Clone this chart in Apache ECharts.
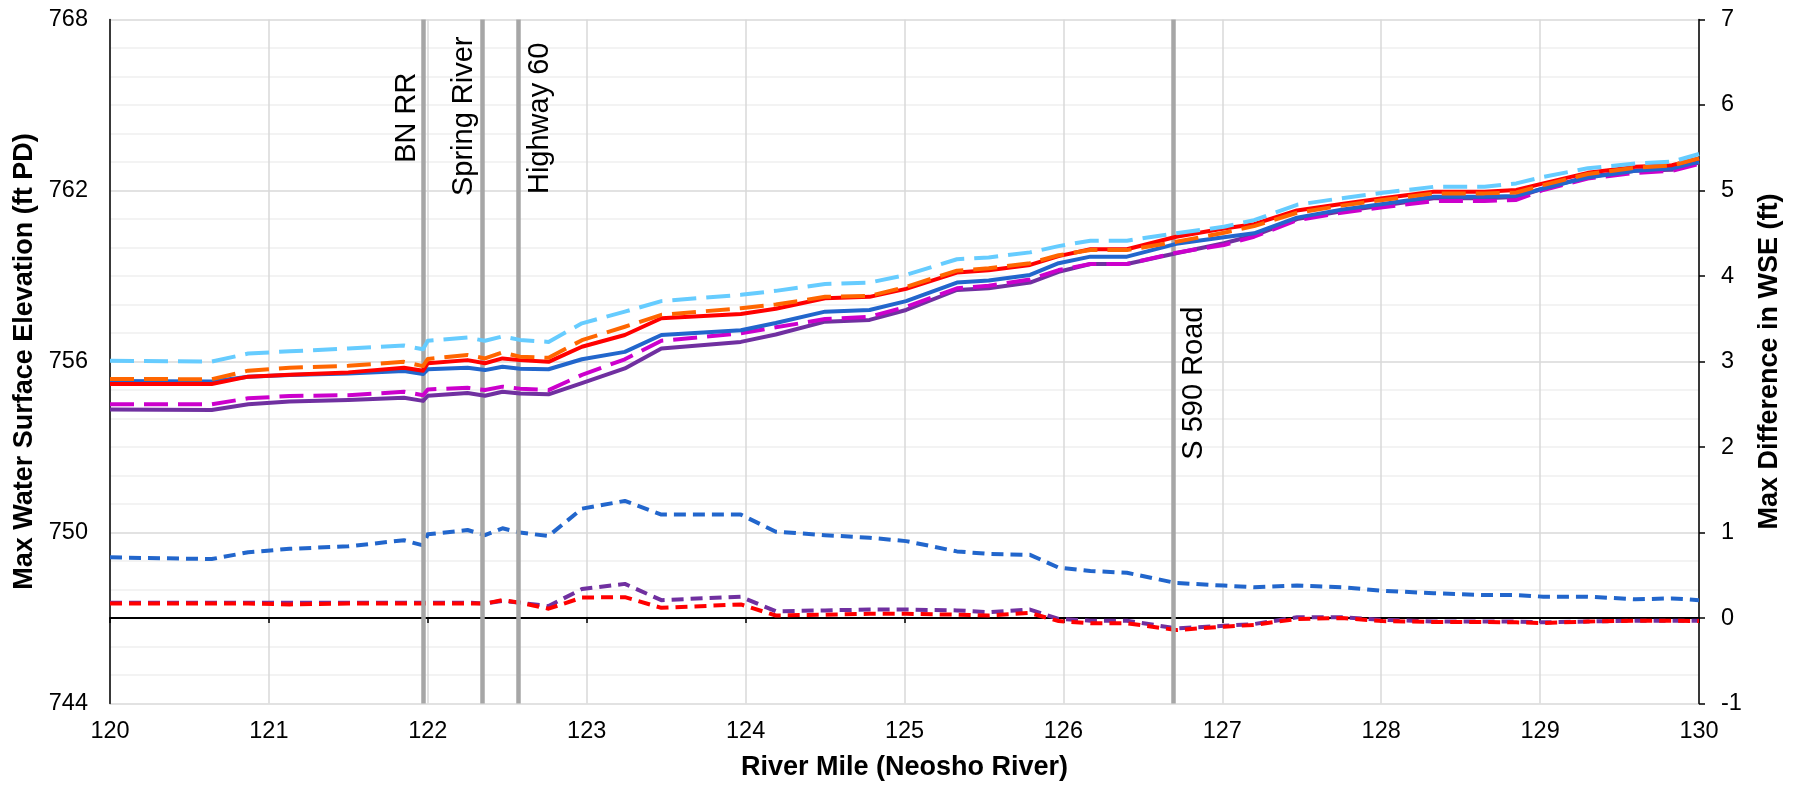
<!DOCTYPE html>
<html>
<head>
<meta charset="utf-8">
<script src="https://cdn.jsdelivr.net/npm/echarts@6/dist/echarts.min.js"></script>
<style>html,body{margin:0;padding:0;background:#ffffff}#chart{width:1797px;height:789px}</style>
</head>
<body>
<div id="chart"></div>
<script>
// ---- data ----
const riverMile = [120.0, 120.64, 120.87, 121.13, 121.5, 121.85, 121.97, 122.0, 122.25, 122.36, 122.47, 122.58, 122.76, 122.97, 123.24, 123.47, 123.97, 124.19, 124.5, 124.78, 125.01, 125.33, 125.53, 125.79, 125.97, 126.17, 126.4, 126.71, 127.01, 127.2, 127.47, 127.75, 128.01, 128.33, 128.65, 128.85, 129.02, 129.3, 129.6, 129.83, 130.0];

// Max water surface elevation (ft PD), left axis
const wseLightBlue = [756.03, 756.0, 756.28, 756.36, 756.46, 756.56, 756.43, 756.73, 756.84, 756.73, 756.88, 756.76, 756.69, 757.34, 757.75, 758.12, 758.34, 758.48, 758.72, 758.77, 759.04, 759.59, 759.65, 759.83, 760.05, 760.24, 760.24, 760.5, 760.73, 760.96, 761.5, 761.73, 761.92, 762.13, 762.13, 762.25, 762.48, 762.78, 762.95, 763.01, 763.28];
const wseOrange = [755.39, 755.38, 755.68, 755.78, 755.85, 755.99, 755.84, 756.09, 756.23, 756.11, 756.32, 756.17, 756.13, 756.75, 757.22, 757.64, 757.87, 758.0, 758.27, 758.3, 758.62, 759.19, 759.27, 759.45, 759.73, 759.91, 759.91, 760.2, 760.52, 760.75, 761.22, 761.47, 761.67, 761.9, 761.9, 761.93, 762.19, 762.58, 762.8, 762.88, 763.13];
const wseRed = [755.21, 755.21, 755.47, 755.54, 755.62, 755.78, 755.68, 755.94, 756.05, 755.94, 756.11, 756.05, 755.99, 756.52, 756.93, 757.52, 757.67, 757.85, 758.22, 758.27, 758.55, 759.12, 759.2, 759.39, 759.7, 759.94, 759.94, 760.38, 760.67, 760.82, 761.3, 761.53, 761.73, 761.96, 761.96, 762.02, 762.25, 762.62, 762.83, 762.89, 763.13];
const wseBlue = [755.32, 755.3, 755.47, 755.53, 755.58, 755.67, 755.56, 755.73, 755.78, 755.7, 755.82, 755.75, 755.73, 756.08, 756.34, 756.93, 757.1, 757.35, 757.75, 757.81, 758.12, 758.77, 758.84, 759.04, 759.45, 759.68, 759.68, 760.13, 760.36, 760.5, 761.05, 761.33, 761.53, 761.78, 761.78, 761.81, 762.07, 762.46, 762.69, 762.78, 763.01];
const wseMagenta = [754.5, 754.5, 754.71, 754.79, 754.82, 754.94, 754.82, 755.02, 755.08, 755.0, 755.12, 755.05, 755.0, 755.53, 756.08, 756.73, 756.99, 757.2, 757.49, 757.57, 757.92, 758.57, 758.66, 758.88, 759.21, 759.42, 759.42, 759.82, 760.09, 760.38, 760.96, 761.22, 761.41, 761.63, 761.63, 761.67, 762.02, 762.42, 762.62, 762.69, 762.93];
const wsePurple = [754.32, 754.3, 754.5, 754.6, 754.65, 754.73, 754.62, 754.8, 754.9, 754.8, 754.94, 754.88, 754.85, 755.24, 755.76, 756.46, 756.69, 756.95, 757.4, 757.46, 757.81, 758.51, 758.57, 758.77, 759.15, 759.42, 759.42, 759.8, 760.15, 760.42, 761.0, 761.27, 761.47, 761.73, 761.73, 761.77, 762.07, 762.48, 762.69, 762.73, 762.98];

// Max difference in WSE (ft), right axis
const diffBlue = [0.71, 0.69, 0.77, 0.81, 0.84, 0.91, 0.85, 0.98, 1.03, 0.97, 1.05, 1.0, 0.96, 1.28, 1.37, 1.21, 1.21, 1.01, 0.97, 0.94, 0.9, 0.78, 0.75, 0.74, 0.59, 0.55, 0.53, 0.41, 0.38, 0.36, 0.38, 0.36, 0.32, 0.29, 0.27, 0.27, 0.25, 0.25, 0.22, 0.23, 0.21];
const diffPurple = [0.18, 0.18, 0.18, 0.18, 0.18, 0.18, 0.18, 0.18, 0.18, 0.17, 0.2, 0.18, 0.14, 0.34, 0.4, 0.21, 0.25, 0.08, 0.09, 0.1, 0.1, 0.09, 0.07, 0.1, -0.01, -0.03, -0.03, -0.12, -0.09, -0.07, 0.01, 0.01, -0.02, -0.04, -0.04, -0.04, -0.05, -0.04, -0.03, -0.03, -0.03];
const diffRed = [0.17, 0.17, 0.17, 0.16, 0.17, 0.17, 0.17, 0.17, 0.17, 0.17, 0.21, 0.18, 0.11, 0.24, 0.245, 0.12, 0.16, 0.03, 0.04, 0.05, 0.05, 0.04, 0.03, 0.06, -0.035, -0.06, -0.06, -0.14, -0.1, -0.08, -0.01, 0.0, -0.035, -0.045, -0.045, -0.05, -0.058, -0.04, -0.03, -0.03, -0.035];

// Reference structures
const refMiles = [121.97, 122.34, 122.57, 126.69];
const refNames = ['BN RR', 'Spring River', 'Highway 60', 'S 590 Road'];

// ---- build chart ----
const FONT = "'Liberation Sans', Arial, sans-serif";
const pairs = (ys) => riverMile.map((x, i) => [x, ys[i]]);

function lineSeries(name, ys, color, yIdx, width, dash, z) {
  return {
    name: name, type: 'line', xAxisIndex: 0, yAxisIndex: yIdx,
    data: pairs(ys), showSymbol: false, symbol: 'none', z: z,
    lineStyle: { color: color, width: width, type: dash || 'solid', cap: 'butt', join: 'round' },
    silent: true
  };
}

const LONG = [24, 10];
const SHORT = [12, 7];

const refLabelStyles = [
  { position: 'insideEndTop', distance: [53, 1] },
  { position: 'insideEndTop', distance: [17, 3] },
  { position: 'insideEndBottom', distance: [23, 7] },
  { position: 'insideEndBottom', distance: [287, 6] }
];

const refSeries = {
  name: 'Structures', type: 'line', xAxisIndex: 0, yAxisIndex: 0, data: [], z: 20, silent: true,
  markLine: {
    silent: true, symbol: ['none', 'none'], animation: false,
    lineStyle: { color: '#A6A6A6', width: 4.5, type: 'solid' },
    data: refMiles.map((m, i) => ({
      xAxis: m,
      label: Object.assign({
        show: true, formatter: refNames[i], color: '#000000',
        fontFamily: FONT, fontSize: 29, lineHeight: 30
      }, refLabelStyles[i])
    }))
  }
};

const option = {
  backgroundColor: '#ffffff',
  animation: false,
  grid: { left: 110, right: 98, top: 19.5, bottom: 85.4, containLabel: false },
  xAxis: [
    {
      type: 'value', min: 120, max: 130, interval: 1, position: 'bottom',
      name: 'River Mile (Neosho River)', nameLocation: 'middle', nameGap: 50,
      nameTextStyle: { fontFamily: FONT, fontSize: 27, fontWeight: 'bold', color: '#000' },
      axisLine: { show: false, onZero: false },
      axisTick: { show: false },
      axisLabel: { fontFamily: FONT, fontSize: 23.5, color: '#000', margin: 16 },
      splitLine: { show: true, lineStyle: { color: '#D9D9D9', width: 1.5 } }
    },
    {
      type: 'value', min: 120, max: 130, interval: 1, position: 'bottom',
      axisLine: { show: true, onZero: true, onZeroAxisIndex: 1, lineStyle: { color: '#000', width: 2 } },
      axisTick: { show: true, inside: false, length: 5, lineStyle: { color: '#000', width: 1.5 } },
      axisLabel: { show: false },
      splitLine: { show: false }
    }
  ],
  yAxis: [
    {
      type: 'value', min: 744, max: 768, interval: 6, position: 'left',
      name: 'Max Water Surface Elevation (ft PD)', nameLocation: 'middle', nameGap: 66, nameRotate: 90,
      nameTextStyle: { fontFamily: FONT, fontSize: 27, fontWeight: 'bold', color: '#000' },
      axisLine: { show: true, onZero: false, lineStyle: { color: '#000', width: 1.5 } },
      axisTick: { show: false },
      axisLabel: { fontFamily: FONT, fontSize: 23.5, color: '#000', margin: 22 },
      splitLine: { show: true, lineStyle: { color: '#D9D9D9', width: 1.5 } },
      minorTick: { show: false, splitNumber: 6 },
      minorSplitLine: { show: true, lineStyle: { color: '#F0F0F0', width: 1.5 } }
    },
    {
      type: 'value', min: -1, max: 7, interval: 1, position: 'right',
      name: 'Max Difference in WSE (ft)', nameLocation: 'middle', nameGap: 57, nameRotate: 90,
      nameTextStyle: { fontFamily: FONT, fontSize: 27, fontWeight: 'bold', color: '#000' },
      axisLine: { show: true, onZero: false, lineStyle: { color: '#000', width: 1.5 } },
      axisTick: { show: true, inside: false, length: 6, lineStyle: { color: '#000', width: 1.5 } },
      axisLabel: { fontFamily: FONT, fontSize: 23.5, color: '#000', margin: 22 },
      splitLine: { show: false }
    }
  ],
  series: [
    lineSeries('Diff Purple', diffPurple, '#7030A0', 1, 4, SHORT, 2),
    lineSeries('Diff Red', diffRed, '#FF0000', 1, 4, SHORT, 3),
    lineSeries('Diff Blue', diffBlue, '#2266CC', 1, 4, SHORT, 4),
    lineSeries('WSE Purple', wsePurple, '#7030A0', 0, 4, null, 5),
    lineSeries('WSE Magenta', wseMagenta, '#CC00CC', 0, 4, LONG, 6),
    lineSeries('WSE Blue', wseBlue, '#2266CC', 0, 4, null, 7),
    lineSeries('WSE Red', wseRed, '#FF0000', 0, 4, null, 8),
    lineSeries('WSE Orange', wseOrange, '#FF6600', 0, 4, LONG, 9),
    lineSeries('WSE Light Blue', wseLightBlue, '#66CCFF', 0, 4, LONG, 10),
    refSeries
  ]
};

const chart = echarts.init(document.getElementById('chart'), null, { renderer: 'canvas' });
chart.setOption(option);
</script>
</body>
</html>
